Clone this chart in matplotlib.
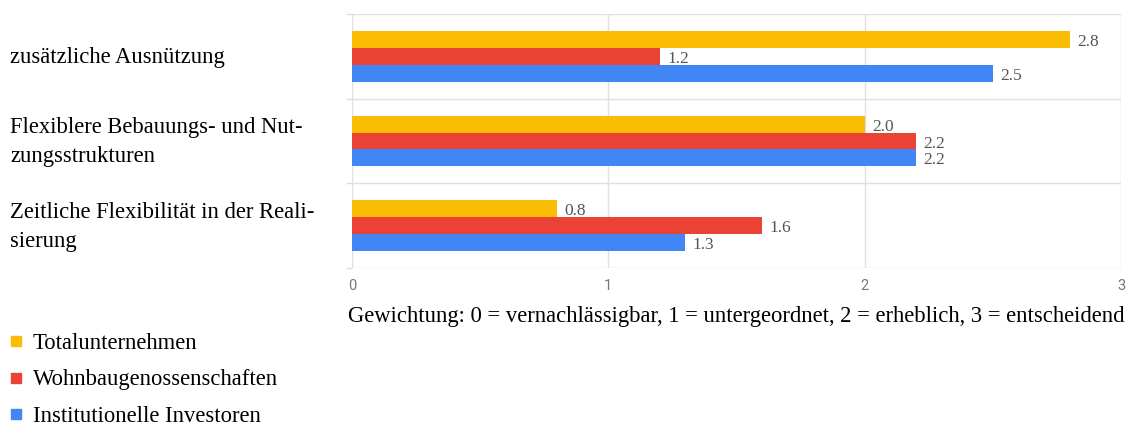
import numpy as np
import matplotlib.pyplot as plt

categories = [
    "zusätzliche Ausnützung",
    "Flexiblere Bebauungs- und Nut-\nzungsstrukturen",
    "Zeitliche Flexibilität in der Reali-\nsierung",
]
series = ["Totalunternehmen", "Wohnbaugenossenschaften", "Institutionelle Investoren"]
total = [2.8, 2.0, 0.8]
genossen = [1.2, 2.2, 1.6]
investoren = [2.5, 2.2, 1.3]
colors = ["#FBBC04", "#EA4335", "#4285F4"]
xticks = [0, 1, 2, 3]
xlabel = "Gewichtung: 0 = vernachlässigbar, 1 = untergeordnet, 2 = erheblich, 3 = entscheidend"

serif = "Liberation Serif"
W, H = 1131, 425
fig = plt.figure(figsize=(W / 100, H / 100), dpi=100)
ax = fig.add_axes([352 / W, 1 - 268 / H, (1121 - 352) / W, (268 - 14) / H])

y = np.arange(len(categories))
h = 0.2
for i, (vals, c) in enumerate(zip([total, genossen, investoren], colors)):
    pos = y + (i - 1) * h
    ax.barh(pos, vals, height=h, color=c, zorder=2)
    for p, v in zip(pos, vals):
        ax.text(v + 0.03, p + 0.03, f"{v:.1f}", va="center", ha="left",
                fontsize=12.5, family=serif, color="#555555", zorder=3)

ax.set_xlim(0, 3)
ax.set_ylim(2.5, -0.5)
ax.set_xticks(xticks)
ax.set_xticklabels([str(t) for t in xticks], family="Roboto", color="#777777", fontsize=10.5)
ax.set_yticks([-0.5, 0.5, 1.5, 2.5])
ax.set_yticklabels([])
ax.tick_params(axis="y", length=4, color="#dddddd", width=1)
ax.tick_params(axis="x", length=0, pad=8)
ax.grid(True, color="#e0e0e0", linewidth=1, zorder=0)
for s in ax.spines.values():
    s.set_visible(False)
ax.set_xlabel(xlabel, family=serif, fontsize=16.3, labelpad=9)

for yi, lab in zip(y, categories):
    fig.text(10 / W, 1 - (57 + yi * 85) / H, lab, ha="left", va="center",
             family=serif, fontsize=16.3, linespacing=1.45)

# legend drawn by hand, one row per series
for i, (name, c) in enumerate(zip(series, colors)):
    ry = 1 - (341 + i * 36.5) / H
    fig.lines.append(plt.Line2D([16 / W], [ry], marker="s", markersize=7, color=c,
                                linestyle="", transform=fig.transFigure))
    fig.text(33 / W, ry, name, ha="left", va="center_baseline", family=serif, fontsize=16.3)

fig.savefig("out.png", dpi=100)
